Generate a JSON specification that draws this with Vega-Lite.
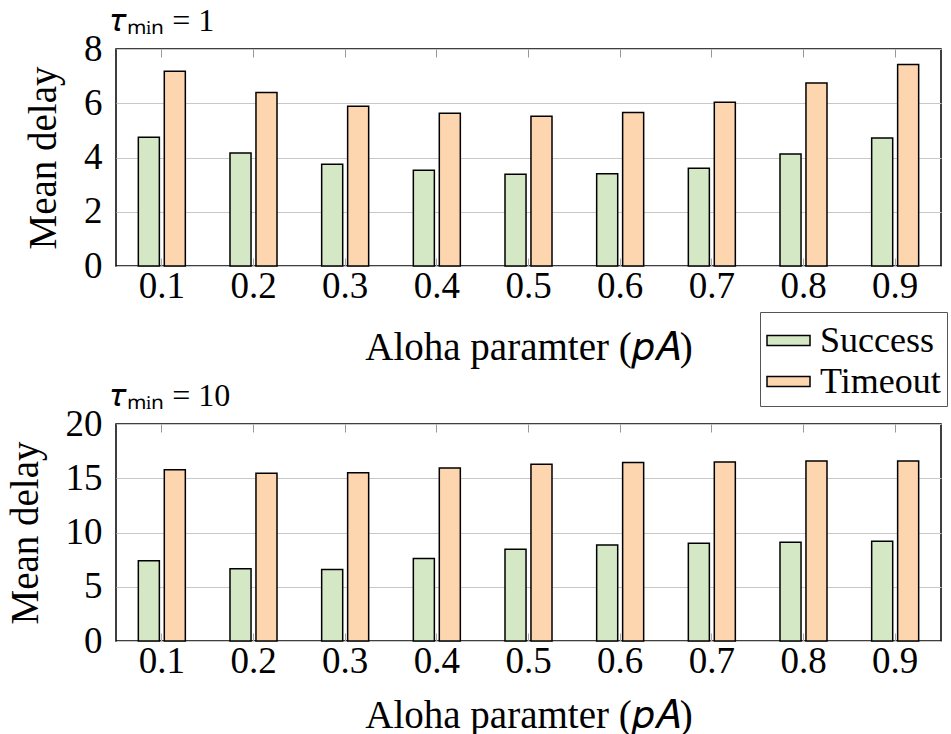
{
  "$schema": "https://vega.github.io/schema/vega-lite/v6.json",
  "background": "white",
  "padding": {"left": 5, "top": 4, "right": 3, "bottom": 2},
  "bounds": "flush",
  "config": {
    "font": "Liberation Serif",
    "view": {"stroke": "#000", "strokeWidth": 1.5},
    "axis": {"labelFont": "Liberation Serif", "titleFont": "Liberation Serif", "labelColor": "#000", "titleColor": "#000", "titleFontWeight": "normal", "domain": false, "gridColor": "#c8c8c8", "gridWidth": 1},
    "legend": {"labelFont": "Liberation Serif", "labelColor": "#000"}
  },
  "datasets": {
    "d": [
      {"tau": 1, "p": "0.1", "type": "Success", "delay": 4.75},
      {"tau": 1, "p": "0.2", "type": "Success", "delay": 4.17},
      {"tau": 1, "p": "0.3", "type": "Success", "delay": 3.75},
      {"tau": 1, "p": "0.4", "type": "Success", "delay": 3.53},
      {"tau": 1, "p": "0.5", "type": "Success", "delay": 3.38},
      {"tau": 1, "p": "0.6", "type": "Success", "delay": 3.4},
      {"tau": 1, "p": "0.7", "type": "Success", "delay": 3.6},
      {"tau": 1, "p": "0.8", "type": "Success", "delay": 4.13},
      {"tau": 1, "p": "0.9", "type": "Success", "delay": 4.72},
      {"tau": 1, "p": "0.1", "type": "Timeout", "delay": 7.18},
      {"tau": 1, "p": "0.2", "type": "Timeout", "delay": 6.4},
      {"tau": 1, "p": "0.3", "type": "Timeout", "delay": 5.89},
      {"tau": 1, "p": "0.4", "type": "Timeout", "delay": 5.63},
      {"tau": 1, "p": "0.5", "type": "Timeout", "delay": 5.52},
      {"tau": 1, "p": "0.6", "type": "Timeout", "delay": 5.66},
      {"tau": 1, "p": "0.7", "type": "Timeout", "delay": 6.04},
      {"tau": 1, "p": "0.8", "type": "Timeout", "delay": 6.75},
      {"tau": 1, "p": "0.9", "type": "Timeout", "delay": 7.43},
      {"tau": 10, "p": "0.1", "type": "Success", "delay": 7.4},
      {"tau": 10, "p": "0.2", "type": "Success", "delay": 6.66},
      {"tau": 10, "p": "0.3", "type": "Success", "delay": 6.6},
      {"tau": 10, "p": "0.4", "type": "Success", "delay": 7.6},
      {"tau": 10, "p": "0.5", "type": "Success", "delay": 8.45},
      {"tau": 10, "p": "0.6", "type": "Success", "delay": 8.85},
      {"tau": 10, "p": "0.7", "type": "Success", "delay": 9.0},
      {"tau": 10, "p": "0.8", "type": "Success", "delay": 9.1},
      {"tau": 10, "p": "0.9", "type": "Success", "delay": 9.19},
      {"tau": 10, "p": "0.1", "type": "Timeout", "delay": 15.79},
      {"tau": 10, "p": "0.2", "type": "Timeout", "delay": 15.46},
      {"tau": 10, "p": "0.3", "type": "Timeout", "delay": 15.5},
      {"tau": 10, "p": "0.4", "type": "Timeout", "delay": 15.95},
      {"tau": 10, "p": "0.5", "type": "Timeout", "delay": 16.3},
      {"tau": 10, "p": "0.6", "type": "Timeout", "delay": 16.45},
      {"tau": 10, "p": "0.7", "type": "Timeout", "delay": 16.5},
      {"tau": 10, "p": "0.8", "type": "Timeout", "delay": 16.6},
      {"tau": 10, "p": "0.9", "type": "Timeout", "delay": 16.6}
    ]
  },
  "spacing": 158,
  "resolve": {"scale": {"color": "independent", "x": "independent", "y": "independent"}, "legend": {"color": "independent"}},
  "vconcat": [
    {
      "width": 825,
      "height": 217,
      "title": {"text": "𝜏ₘᵢₙ = 1", "anchor": "start", "frame": "group", "fontSize": 32, "font": "Liberation Serif", "fontWeight": "normal", "color": "#000", "offset": -8, "dx": -5},
      "data": {"name": "d"},
      "transform": [{"filter": "datum.tau == 1"}],
      "layer": [
        {
          "mark": {"type": "bar", "stroke": "#000", "strokeWidth": 1.5, "opacity": 1},
          "encoding": {
            "x": {"field": "p", "type": "nominal", "scale": {"paddingInner": 0, "paddingOuter": 0},
                  "axis": {"orient": "bottom", "title": "Aloha paramter (𝑝𝐴)", "labelAngle": 0, "labelFontSize": 37, "titleFontSize": 39, "grid": false, "tickSize": -8, "tickColor": "#aaaaaa", "labelPadding": 10, "titlePadding": 24}},
            "xOffset": {"field": "type", "type": "nominal", "scale": {"paddingInner": 0.19, "paddingOuter": 0.86}},
            "y": {"field": "delay", "type": "quantitative", "scale": {"domain": [0, 8]},
                  "axis": {"title": "Mean delay", "values": [0, 2, 4, 6, 8], "ticks": false, "labelFontSize": 37, "titleFontSize": 39, "labelPadding": 14, "titlePadding": 20}},
            "color": {"field": "type", "type": "nominal", "scale": {"domain": ["Success", "Timeout"], "range": ["#d5e8c6", "#fdd5ae"]},
                      "legend": {"orient": "none", "legendX": 644, "legendY": 263, "title": null, "labelFontSize": 36, "symbolType": "M-1,-0.23L1,-0.23L1,0.23L-1,0.23Z", "symbolSize": 1849, "symbolStrokeColor": "#000", "symbolStrokeWidth": 1.5, "symbolOpacity": 1, "strokeColor": "#555", "fillColor": "white", "padding": 6, "rowPadding": -1, "labelOffset": 9}}
          }
        },
        {
          "mark": {"type": "tick", "opacity": 0},
          "encoding": {
            "x": {"field": "p", "type": "nominal", "axis": {"orient": "top", "title": null, "labels": false, "grid": false, "tickSize": -8, "tickColor": "#999999"}}
          }
        }
      ]
    },
    {
      "width": 825,
      "height": 217,
      "title": {"text": "𝜏ₘᵢₙ = 10", "anchor": "start", "frame": "group", "fontSize": 32, "font": "Liberation Serif", "fontWeight": "normal", "color": "#000", "offset": -8, "dx": -5},
      "data": {"name": "d"},
      "transform": [{"filter": "datum.tau == 10"}],
      "layer": [
        {
          "mark": {"type": "bar", "stroke": "#000", "strokeWidth": 1.5, "opacity": 1},
          "encoding": {
            "x": {"field": "p", "type": "nominal", "scale": {"paddingInner": 0, "paddingOuter": 0},
                  "axis": {"orient": "bottom", "title": "Aloha paramter (𝑝𝐴)", "labelAngle": 0, "labelFontSize": 37, "titleFontSize": 39, "grid": false, "tickSize": -8, "tickColor": "#aaaaaa", "labelPadding": 10, "titlePadding": 17}},
            "xOffset": {"field": "type", "type": "nominal", "scale": {"paddingInner": 0.19, "paddingOuter": 0.86}},
            "y": {"field": "delay", "type": "quantitative", "scale": {"domain": [0, 20]},
                  "axis": {"title": "Mean delay", "values": [0, 5, 10, 15, 20], "ticks": false, "labelFontSize": 37, "titleFontSize": 39, "labelPadding": 14, "titlePadding": 20}},
            "color": {"field": "type", "type": "nominal", "scale": {"domain": ["Success", "Timeout"], "range": ["#d5e8c6", "#fdd5ae"]}, "legend": null}
          }
        },
        {
          "mark": {"type": "tick", "opacity": 0},
          "encoding": {
            "x": {"field": "p", "type": "nominal", "axis": {"orient": "top", "title": null, "labels": false, "grid": false, "tickSize": -8, "tickColor": "#999999"}}
          }
        }
      ]
    }
  ]
}
